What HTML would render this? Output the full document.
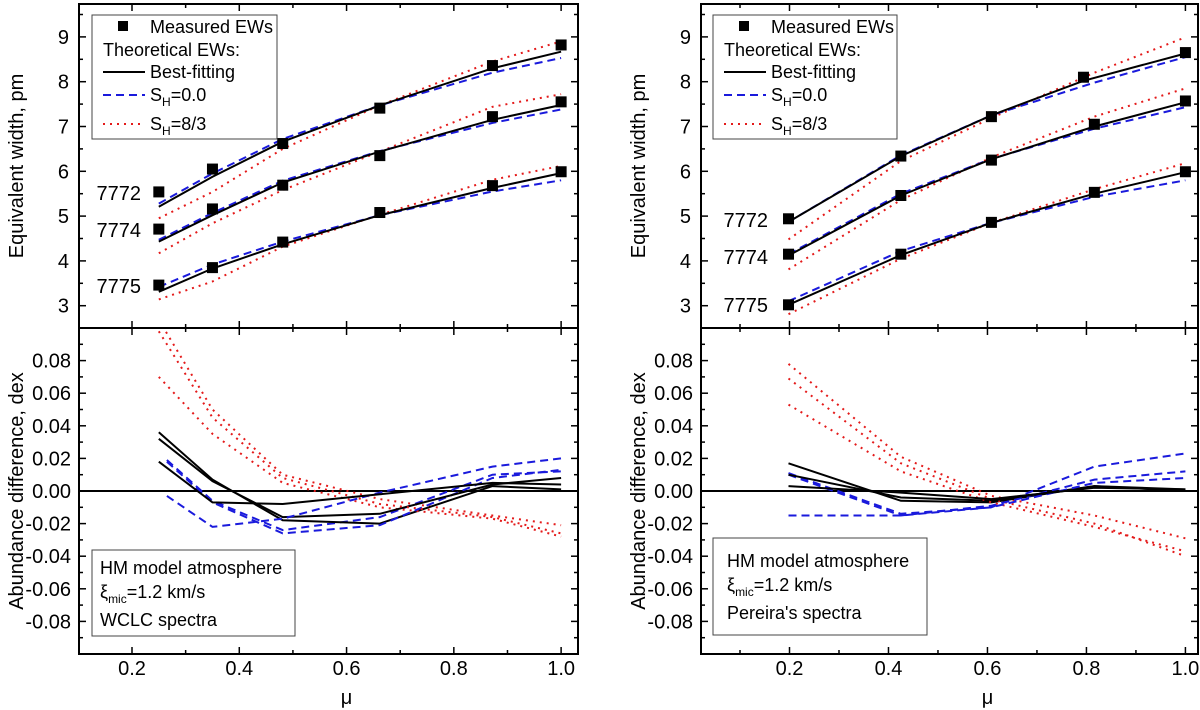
<!DOCTYPE html>
<html><head><meta charset="utf-8"><style>
html,body{margin:0;padding:0;background:#fff;}
svg{display:block;font-family:"Liberation Sans",Arial,sans-serif;}
</style></head><body>
<svg id="chart" width="1200" height="710" viewBox="0 0 1200 710">
<defs>
<clipPath id="clipL"><rect x="79" y="328" width="499" height="326"/></clipPath>
<clipPath id="clipR"><rect x="701" y="328" width="497" height="326"/></clipPath>
</defs>
</svg>
<script>
// ---------- data ----------
const xTicks = [0.2,0.4,0.6,0.8,1.0];
const xTickLabels = ["0.2","0.4","0.6","0.8","1.0"];
const ewTicks = [3,4,5,6,7,8,9];
const dTicks = [-0.08,-0.06,-0.04,-0.02,0,0.02,0.04,0.06,0.08];
const dTickLabels = ["-0.08","-0.06","-0.04","-0.02","0.00","0.02","0.04","0.06","0.08"];
const lineNames = ["7772","7774","7775"];

// Left panel (WCLC)
const muL = [0.25,0.35,0.481,0.662,0.872,1.0];
const measL = [[5.54,6.05,6.62,7.41,8.36,8.82],[4.71,5.16,5.69,6.35,7.22,7.55],[3.46,3.85,4.42,5.08,5.68,5.99]];
const bestL = [[5.21,5.88,6.66,7.47,8.30,8.67],[4.43,5.02,5.75,6.44,7.15,7.48],[3.31,3.83,4.37,5.02,5.63,5.96]];
const sh0L = [[5.28,5.95,6.72,7.47,8.20,8.53],[4.47,5.07,5.79,6.45,7.08,7.38],[3.42,3.92,4.43,5.02,5.55,5.80]];
const sh83L = [[4.95,5.54,6.50,7.47,8.45,8.90],[4.17,4.84,5.58,6.44,7.44,7.72],[3.14,3.54,4.32,5.03,5.81,6.12]];
const muLblue = [0.265,0.35,0.481,0.662,0.872,1.0];
const diffBestL = [[0.036,0.007,-0.018,-0.020,0.003,0.001],[0.032,0.006,-0.016,-0.014,0.004,0.008],[0.018,-0.007,-0.008,-0.002,0.005,0.004]];
const diffSh0L = [[0.019,-0.006,-0.024,-0.016,0.010,0.012],[0.018,-0.007,-0.026,-0.021,0.008,0.013],[-0.003,-0.022,-0.017,-0.001,0.015,0.020]];
const diffSh83L = [[0.105,0.050,0.010,-0.005,-0.015,-0.021],[0.070,0.035,0.005,-0.010,-0.017,-0.028],[0.098,0.045,0.008,-0.008,-0.016,-0.026]];

// Right panel (Pereira)
const muR7772 = [0.198,0.425,0.608,0.794,1.0];
const muR = [0.198,0.425,0.608,0.816,1.0];
const measR = [[4.94,6.34,7.22,8.10,8.65],[4.15,5.46,6.25,7.05,7.57],[3.02,4.15,4.86,5.53,5.99]];
const bestR = [[4.87,6.34,7.25,8.02,8.63],[4.12,5.46,6.27,7.00,7.54],[3.02,4.13,4.85,5.50,5.98]];
const sh0R = [[4.87,6.36,7.25,7.98,8.55],[4.15,5.50,6.28,6.95,7.43],[3.10,4.22,4.85,5.43,5.80]];
const sh83R = [[4.48,6.23,7.19,8.20,8.99],[3.81,5.36,6.31,7.22,7.85],[2.81,4.05,4.85,5.60,6.18]];
const diffBestR = [[0.017,-0.006,-0.007,0.003,0.001],[0.010,-0.004,-0.006,0.003,0.000],[0.003,-0.001,-0.005,0.002,0.001]];
const diffSh0R = [[0.011,-0.014,-0.010,0.015,0.023],[0.010,-0.015,-0.009,0.007,0.012],[-0.015,-0.015,-0.010,0.005,0.008]];
const diffSh83R = [[0.078,0.021,-0.003,-0.015,-0.029],[0.069,0.017,-0.005,-0.020,-0.040],[0.053,0.012,-0.007,-0.022,-0.037]];

// ---------- drawing ----------
const svg = document.getElementById('chart');
const NS = 'http://www.w3.org/2000/svg';
function mk(tag, attrs, parent){
  const e = document.createElementNS(NS, tag);
  for (const k in attrs) e.setAttribute(k, attrs[k]);
  (parent||svg).appendChild(e);
  return e;
}
const yTop = 4, ySplit = 328, yBot = 654;
function yEW(v){ return 305.7 - (v-3)*44.8; }
function yD(v){ return 491 - v*1630; }

function panel(P){
  const g = mk('g', {});
  
  
  const X = P.x;
  const f1 = mk('rect', {x:P.L, y:yTop, width:P.R-P.L, height:ySplit-yTop, fill:'none', stroke:'#000', 'stroke-width':2}, g);
  
  
  const f2 = mk('rect', {x:P.L, y:ySplit, width:P.R-P.L, height:yBot-ySplit, fill:'none', stroke:'#000', 'stroke-width':2}, g);
  
  
  for (let m = 0; m <= 1.0001; m += 0.1) {
    const xx = X(m);
    if (xx < P.L + 1 || xx > P.R - 1) continue;
    const major = Math.abs(Math.round(m*10) % 2) === 0;
    const len = major ? 7 : 4;
    [[yTop,1],[ySplit,-1],[ySplit,1],[yBot,-1]].forEach(([y0,d])=>{
      mk('line', {x1:xx, x2:xx, y1:y0, y2:y0+d*len, stroke:'#000', 'stroke-width':1.5}, g);
    });
  }
  xTicks.forEach((t,i)=>{
    const tl = mk('text', {x:X(t), y:675, 'font-size':20, 'text-anchor':'middle'}, g);
    tl.textContent = xTickLabels[i];
    
    
  });
  const xt = mk('text', {x:X(0.6), y:704, 'font-size':20, 'text-anchor':'middle'}, g);
  xt.textContent = 'μ';
  
  
  for (let v = 2.5; v <= 9.5001; v += 0.5) {
    const yy = yEW(v); if (yy < yTop+1 || yy > ySplit-1) continue;
    const major = Math.abs(v - Math.round(v)) < 0.01;
    const len = major ? 7 : 4;
    mk('line', {x1:P.L, x2:P.L+len, y1:yy, y2:yy, stroke:'#000', 'stroke-width':1.5}, g);
    mk('line', {x1:P.R, x2:P.R-len, y1:yy, y2:yy, stroke:'#000', 'stroke-width':1.5}, g);
  }
  ewTicks.forEach(t=>{
    const tl = mk('text', {x:P.L-10, y:yEW(t)+7, 'font-size':20, 'text-anchor':'end'}, g);
    tl.textContent = String(t);
    
    
  });
  for (let k = -9; k <= 9; k++) {
    const v = k*0.01; const yy = yD(v);
    const len = (k % 2 === 0) ? 7 : 4;
    mk('line', {x1:P.L, x2:P.L+len, y1:yy, y2:yy, stroke:'#000', 'stroke-width':1.5}, g);
    mk('line', {x1:P.R, x2:P.R-len, y1:yy, y2:yy, stroke:'#000', 'stroke-width':1.5}, g);
  }
  dTicks.forEach((t,i)=>{
    const tl = mk('text', {x:P.L-8, y:yD(t)+7, 'font-size':20, 'text-anchor':'end'}, g);
    tl.textContent = dTickLabels[i];
    
    
  });
  const yt1 = mk('text', {x:0, y:0, 'font-size':20, 'text-anchor':'middle', transform:`translate(${P.titleX},166) rotate(-90)`}, g);
  yt1.textContent = 'Equivalent width, pm';
  
  
  const yt2 = mk('text', {x:0, y:0, 'font-size':20, 'text-anchor':'middle', transform:`translate(${P.titleX},491) rotate(-90)`}, g);
  yt2.textContent = 'Abundance difference, dex';
  
  
  const z = mk('line', {x1:P.L, x2:P.R, y1:yD(0), y2:yD(0), stroke:'#000', 'stroke-width':2}, g);
  
  

  function poly(xs, ys, fy, style, name, parent){
    const pts = xs.map((m,i)=>X(m).toFixed(1)+','+fy(ys[i]).toFixed(1)).join(' ');
    const p = mk('polyline', Object.assign({points:pts, fill:'none'}, style), parent||g);
    
    
  }
  const sBlack = {stroke:'#000','stroke-width':2};
  const sBlue = {stroke:'#1a1adc','stroke-width':2,'stroke-dasharray':'8,5'};
  const sRed = {stroke:'#e41a1a','stroke-width':2,'stroke-dasharray':'2,5'};
  for (let i=0;i<3;i++){
    const mu = P.muFor(i);
    poly(P.mu, P.sh83[i], yEW, sRed, 'sh-8-3-line-'+lineNames[i]);
    poly(P.mu, P.sh0[i], yEW, sBlue, 'sh-0-line-'+lineNames[i]);
    poly(mu, P.best[i], yEW, sBlack, 'best-fit-line-'+lineNames[i]);
    P.meas[i].forEach((v,j)=>{
      const r = mk('rect', {x:X(mu[j])-5.5, y:yEW(v)-5.5, width:11, height:11, fill:'#000'}, g);
      
      
    });
    const lb = mk('text', {x:P.lblX, y:P.lblY[i]+7, 'font-size':20, 'text-anchor':'end'}, g);
    lb.textContent = lineNames[i];
    
    
  }
  const cg = mk('g', {'clip-path':`url(#${P.clip})`}, g);
  
  
  for (let i=0;i<3;i++){
    poly(P.mu, P.dRed[i], yD, sRed, 'diff-sh-8-3', cg);
    poly(P.muBlue, P.dBlue[i], yD, sBlue, 'diff-sh-0', cg);
    poly(P.mu, P.dBest[i], yD, sBlack, 'diff-best-fit', cg);
  }
  const lg = mk('g', {}, g);
  
  
  const lx = P.legX;
  mk('rect', {x:lx, y:15, width:P.legW, height:124, fill:'#fff', stroke:'#444', 'stroke-width':1}, lg);
  const sq = mk('rect', {x:lx+26, y:21, width:10, height:10, fill:'#000'}, lg);
  
  
  function ltext(x,y,txt,name){ const t=mk('text',{x:x,y:y,'font-size':18},lg); t.textContent=txt;   return t; }
  ltext(lx+58, 33, 'Measured EWs', 'legend-entry-measured');
  ltext(lx+11, 56, 'Theoretical EWs:', 'legend-heading-theoretical');
  mk('line', {x1:lx+11, x2:lx+53, y1:72, y2:72, stroke:'#000','stroke-width':2}, lg);
  ltext(lx+58, 78, 'Best-fitting', 'legend-entry-best-fitting');
  mk('line', {x1:lx+11, x2:lx+53, y1:95, y2:95, stroke:'#1a1adc','stroke-width':2,'stroke-dasharray':'8,5'}, lg);
  const t1 = ltext(lx+58, 101, 'S', 'legend-entry-sh-0');
  const s1 = mk('tspan',{dy:5,'font-size':12},t1); s1.textContent='H';
  const s1b = mk('tspan',{dy:-5},t1); s1b.textContent='=0.0';
  mk('line', {x1:lx+11, x2:lx+53, y1:124, y2:124, stroke:'#e41a1a','stroke-width':2,'stroke-dasharray':'2,5'}, lg);
  const t2 = ltext(lx+58, 130, 'S', 'legend-entry-sh-8-3');
  const s2 = mk('tspan',{dy:5,'font-size':12},t2); s2.textContent='H';
  const s2b = mk('tspan',{dy:-5},t2); s2b.textContent='=8/3';
  const ib = mk('g', {}, g);
  
  
  mk('rect', {x:P.box[0], y:P.box[1], width:P.box[2], height:P.box[3], fill:'#fff', stroke:'#444','stroke-width':1}, ib);
  const tx = P.box[0]+8 + P.boxPad;
  const r1 = mk('text',{x:tx,y:P.rows[0]+6,'font-size':18},ib); r1.textContent='HM model atmosphere';
  const r2 = mk('text',{x:tx,y:P.rows[1]+6,'font-size':18},ib); r2.textContent='ξ';
  const r2a = mk('tspan',{dy:5,'font-size':12},r2); r2a.textContent='mic';
  const r2b = mk('tspan',{dy:-5},r2); r2b.textContent='=1.2 km/s';
  const r3 = mk('text',{x:tx,y:P.rows[2]+6,'font-size':18},ib); r3.textContent=P.spectra;
}

panel({
  name:'left-panel-wclc', L:79, R:578, x:m=>132+(m-0.2)*536.4, titleX:23,
  mu:muL, muBlue:muLblue, muFor:()=>muL,
  meas:measL, best:bestL, sh0:sh0L, sh83:sh83L,
  dBest:diffBestL, dBlue:diffSh0L, dRed:diffSh83L,
  lblX:141, lblY:[193,230,286], legX:92, legW:185, clip:'clipL',
  box:[92,550,203,86], boxPad:0, rows:[568,592,620], spectra:'WCLC spectra'
});
panel({
  name:'right-panel-pereira', L:701, R:1198, x:m=>789.5+(m-0.2)*494.9, titleX:645,
  mu:muR, muBlue:muR, muFor:i=>i===0?muR7772:muR,
  meas:measR, best:bestR, sh0:sh0R, sh83:sh83R,
  dBest:diffBestR, dBlue:diffSh0R, dRed:diffSh83R,
  lblX:768, lblY:[220,257,305], legX:713, legW:184, clip:'clipR',
  box:[713,538,214,97], boxPad:6, rows:[561,585,613], spectra:"Pereira's spectra"
});
</script>
</body></html>
